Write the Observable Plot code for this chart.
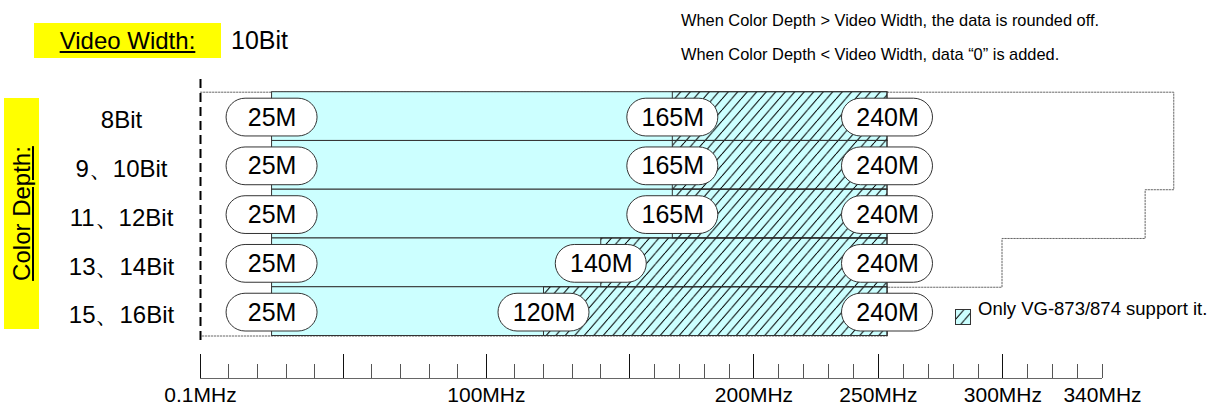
<!DOCTYPE html>
<html><head><meta charset="utf-8">
<script src="https://cdn.jsdelivr.net/npm/d3@7"></script>
<script src="https://cdn.jsdelivr.net/npm/@observablehq/plot@0.6"></script>
<style>
body{margin:0;background:#fff;}
#wrap{position:relative;width:1221px;height:407px;overflow:hidden;font-family:"Liberation Sans",Arial,sans-serif;color:#000;background:#fff;}
.abs{position:absolute;}
.ybox{background:#ffff00;text-align:center;}
u{text-underline-offset:2px;}
</style></head><body>
<div id="wrap">
  <div id="axis" class="abs" style="left:0;top:0"></div>
  <div id="bars" class="abs" style="left:0;top:0"></div>
  <div id="vw" class="abs ybox" style="left:34px;top:23px;width:187px;height:35px;line-height:35px;font-size:24px;"></div>
  <div id="vwv" class="abs" style="left:231px;top:23px;height:35px;line-height:35px;font-size:25px;"></div>
  <div id="note1" class="abs" style="left:681px;top:10px;line-height:20px;font-size:16.4px;white-space:nowrap;"></div>
  <div id="note2" class="abs" style="left:681px;top:44px;line-height:20px;font-size:16.4px;white-space:nowrap;"></div>
  <div id="cd" class="abs ybox" style="left:-94px;top:196px;width:231px;height:35px;line-height:35px;font-size:24px;transform:rotate(-90deg);"></div>
  <div id="legend" class="abs" style="left:955px;top:299px;height:20px;line-height:20px;font-size:18.5px;white-space:nowrap;"></div>
</div>
<script>
// ---- data ----
const rows = ["8Bit", "9、10Bit", "11、12Bit", "13、14Bit", "15、16Bit"];
const minClock = [25, 25, 25, 25, 25];          // MHz, start of supported range
const extClock = [165, 165, 165, 140, 120];     // MHz, start of VG-873/874-only range
const maxClock = [240, 240, 240, 240, 240];     // MHz, end of range
const outlineMax = [340, 340, 330, 280, 240];   // MHz, dotted outline limit
const majorTicks = [0.1, 50, 100, 150, 200, 250, 300];
const minorTicks = [10, 20, 30, 40, 60, 70, 80, 90, 110, 120, 130, 140, 160, 170, 180, 190,
                    210, 220, 230, 240, 260, 270, 280, 290, 310, 320, 330, 340];
const labelTicks = [0.1, 100, 200, 250, 300, 340];
const labelTexts = ["0.1MHz", "100MHz", "200MHz", "250MHz", "300MHz", "340MHz"];
const videoWidthLabel = "Video Width:";
const videoWidthValue = "10Bit";
const colorDepthLabel = "Color Depth:";
const notes = ["When Color Depth > Video Width, the data is rounded off.",
               "When Color Depth < Video Width, data \u201c0\u201d is added."];
const legendText = "Only VG-873/874 support it.";

// ---- tables ----
const table = rows.map((r, i) => ({row: r, i, lo: minClock[i], mid: extClock[i], hi: maxClock[i]}));
const bubbles = table.flatMap(d => [d.lo, d.mid, d.hi].map(v => ({v, i: d.i})));
const stairs = [{x: 0, y: 0}];
outlineMax.forEach((m, i) => stairs.push({x: m, y: i}, {x: m, y: i + 1}));
stairs.push({x: 0, y: rows.length});
const ticks = [...majorTicks.map(v => ({v, h: 1, c: "#111"})), ...minorTicks.map(v => ({v, h: 0.58, c: "#555"}))];
const labels = labelTicks.map((v, k) => ({v, t: labelTexts[k]}));

const font = '"Liberation Sans", Arial, sans-serif';
const hatchDefs =
  '<pattern id="hatch" patternUnits="userSpaceOnUse" width="9.5" height="11">' +
  '<path d="M-9.5,11L0,0M0,11L9.5,0M9.5,11L19,0" stroke="#000" stroke-width="1" fill="none"/></pattern>';

// ---- bars plot ----
const bars = Plot.plot({
  width: 1221, height: 407,
  marginTop: 79, marginBottom: 62, marginLeft: 0, marginRight: 0,
  style: {background: "transparent", fontFamily: font, overflow: "visible"},
  x: {domain: [0, 340], range: [200, 1173.25], axis: null},
  y: {domain: [0, rows.length], range: [91.7, 335.5], axis: null},
  marks: [
    Plot.line(stairs, {x: "x", y: "y", stroke: "#666", strokeWidth: 1, strokeDasharray: "1.5,1.5"}),
    Plot.ruleX([0], {stroke: "#000", strokeWidth: 2, strokeDasharray: "9,5"}),
    Plot.rect(table, {x1: "lo", x2: "hi", y1: "i", y2: d => d.i + 1, fill: "#ccffff", stroke: "#333", strokeWidth: 1}),
    Plot.rect(table, {x1: "mid", x2: "hi", y1: "i", y2: d => d.i + 1, fill: "url(#hatch)", stroke: "#333", strokeWidth: 1}),
    Plot.rect(bubbles, {x1: "v", x2: "v", y1: "i", y2: d => d.i + 1,
      insetLeft: -45.5, insetRight: -45.5, insetTop: 6.5, insetBottom: 4.5, rx: 19,
      fill: "white", stroke: "#333", strokeWidth: 1}),
    Plot.text(bubbles, {x: "v", y: d => d.i + 0.5, dy: 1, text: d => d.v + "M", fontSize: 25, fill: "#000"}),
    Plot.text(table, {y: d => d.i + 0.5, text: "row", frameAnchor: "left", dx: 121, dy: 4, textAnchor: "middle", fontSize: 24, fill: "#000"})
  ]
});
d3.select(bars).insert("defs", ":first-child").html(hatchDefs);
document.getElementById("bars").appendChild(bars);

// ---- axis plot (scale is compressed above 150MHz, as in the original) ----
const knee = 150, slopeRatio = 0.87;
const compress = d => d <= knee ? d : knee + (d - knee) * slopeRatio;
const axis = Plot.plot({
  width: 1221, height: 407,
  marginTop: 79, marginBottom: 29, marginLeft: 0, marginRight: 0,
  style: {background: "transparent", fontFamily: font, overflow: "visible"},
  x: {transform: compress, domain: [0.1, compress(340)], range: [200, 1102], axis: null},
  y: {domain: [0, 1], range: [378, 354], axis: null},
  marks: [
    Plot.ruleY([0], {x1: 0.1, x2: 340, stroke: "#666", strokeWidth: 1, shapeRendering: "crispEdges"}),
    Plot.ruleX(ticks, {x: "v", y1: 0, y2: "h", stroke: "c", strokeWidth: 1, shapeRendering: "crispEdges"}),
    Plot.text(labels, {x: "v", y: 0, dy: 17, text: "t", fontSize: 21, fill: "#000"})
  ]
});
document.getElementById("axis").appendChild(axis);

// ---- texts ----
document.getElementById("vw").innerHTML = "<u>" + videoWidthLabel + "</u>";
document.getElementById("vwv").textContent = videoWidthValue;
document.getElementById("note1").textContent = notes[0];
document.getElementById("note2").textContent = notes[1];
document.getElementById("cd").innerHTML = "<u>" + colorDepthLabel + "</u>";
document.getElementById("legend").innerHTML =
  '<svg width="16" height="16" style="position:absolute;left:0;top:10px">' +
  '<rect x="0.5" y="0.5" width="15" height="15" fill="#ccffff" stroke="#333"/>' +
  '<rect x="0.5" y="0.5" width="15" height="15" fill="url(#hatch)" stroke="#333"/></svg>' +
  '<span style="position:absolute;left:23px;top:0">' + legendText + '</span>';
</script>
</body></html>
